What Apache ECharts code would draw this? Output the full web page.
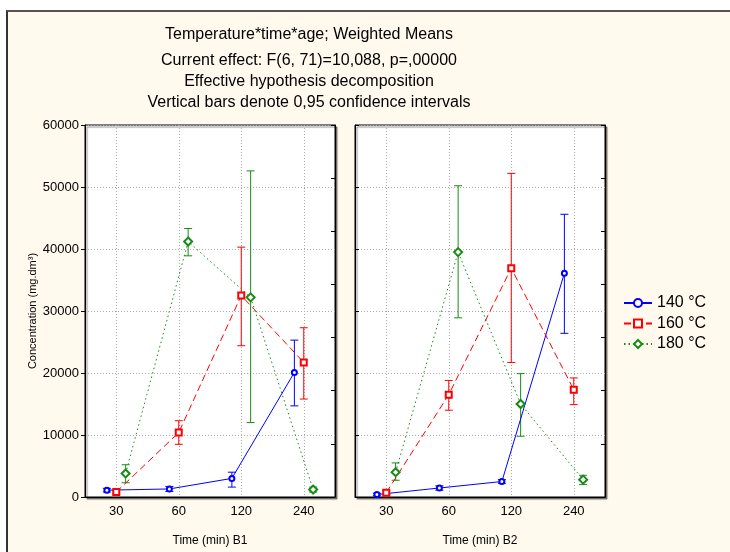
<!DOCTYPE html>
<html>
<head>
<meta charset="utf-8">
<script src="https://cdn.jsdelivr.net/npm/echarts@6/dist/echarts.min.js"></script>
<style>
  html, body { margin: 0; padding: 0; background: #fff; overflow: hidden; width: 730px; height: 552px; }
  #frame {
    position: absolute; left: 6px; top: 10px; width: 740px; height: 560px;
    background: #fff9ee; border-left: 2px solid #333; border-top: 2px solid #555;
  }
  #chart { position: absolute; left: 0; top: 0; width: 730px; height: 552px; }
</style>
</head>
<body>
<div id="frame"></div>
<div id="chart"></div>
<script>
// time categories (min)
const categories = ['30', '60', '120', '240'];
const temps = ['140 °C', '160 °C', '180 °C'];

// age B1: weighted means and 0,95 confidence limits
const b1Mean140 = [1100, 1300, 3000, 20100];
const b1Low140 = [800, 900, 1600, 14700];
const b1High140 = [1400, 1700, 4000, 25300];
const b1Mean160 = [800, 10400, 32500, 21700];
const b1Low160 = [500, 8500, 24400, 15800];
const b1High160 = [1100, 12300, 40300, 27300];
const b1Mean180 = [3800, 41200, 32200, 1200];
const b1Low180 = [2300, 38900, 12000, 800];
const b1High180 = [5200, 43300, 52600, 1600];

// age B2
const b2Mean140 = [400, 1450, 2500, 36100];
const b2Low140 = [200, 1100, 2200, 26400];
const b2High140 = [600, 1800, 2800, 45600];
const b2Mean160 = [700, 16500, 36900, 17300];
const b2Low160 = [400, 14000, 21700, 14900];
const b2High160 = [1000, 18800, 52200, 19200];
const b2Mean180 = [4000, 39500, 15000, 2800];
const b2Low180 = [2700, 28900, 9800, 2000];
const b2High180 = [5500, 50200, 19900, 3500];

const yTicks = [0, 10000, 20000, 30000, 40000, 50000, 60000];

// styling
const colors = ['#0000ff', '#ff0000', '#168c16'];
const symbols = ['emptyCircle', 'emptyRect', 'emptyDiamond'];
const symbolSizes = [5, 6, 8];
const lineTypes = ['solid', [7, 4], [1.5, 3]];
const jitter = [-0.15, 0, 0.15];
const font = 'Liberation Sans, Arial, sans-serif';

const panels = [
  { means: [b1Mean140, b1Mean160, b1Mean180], lows: [b1Low140, b1Low160, b1Low180], highs: [b1High140, b1High160, b1High180], title: 'Time (min) B1' },
  { means: [b2Mean140, b2Mean160, b2Mean180], lows: [b2Low140, b2Low160, b2Low180], highs: [b2High140, b2High160, b2High180], title: 'Time (min) B2' },
];

function renderErrorBar(params, api) {
  const x = api.value(0);
  const lo = api.coord([x, api.value(1)]);
  const hi = api.coord([x, api.value(2)]);
  const half = 4;
  const style = { stroke: api.visual('color'), lineWidth: 1, fill: null };
  return {
    type: 'group',
    children: [
      { type: 'line', shape: { x1: lo[0], y1: lo[1], x2: hi[0], y2: hi[1] }, style },
      { type: 'line', shape: { x1: lo[0] - half, y1: lo[1], x2: lo[0] + half, y2: lo[1] }, style },
      { type: 'line', shape: { x1: hi[0] - half, y1: hi[1], x2: hi[0] + half, y2: hi[1] }, style },
    ],
  };
}

function createChart(chartDom) {
  const grid = [];
  const xAxis = [];
  const yAxis = [];
  const series = [];
  const lefts = [85, 355];

  panels.forEach((p, g) => {
    grid.push({
      left: lefts[g], top: 125, width: 250, height: 372,
      show: true, backgroundColor: '#fff', borderColor: '#000', borderWidth: 1,
      shadowColor: 'rgba(0,0,0,0.45)', shadowOffsetX: 2, shadowOffsetY: 2, shadowBlur: 1,
    });
    xAxis.push({
      type: 'value', gridIndex: g, min: -0.5, max: 3.5, splitNumber: 4,
      name: p.title, nameLocation: 'middle', nameGap: 38,
      nameTextStyle: { fontSize: 12, color: '#000', fontFamily: font },
      axisLine: { show: true, onZero: false, lineStyle: { color: '#000' } },
      axisTick: { show: false },
      axisLabel: {
        margin: 8, fontSize: 13, color: '#000', fontFamily: font,
        formatter: (v) => (Number.isInteger(v) ? categories[v] : ''),
      },
      splitLine: { show: true, lineStyle: { color: '#aaa', type: [1, 2] } },
    });
    yAxis.push({
      type: 'value', gridIndex: g, position: 'left', min: 0, max: 60000, interval: 10000,
      name: g === 0 ? 'Concentration (mg.dm³)' : '', nameLocation: 'middle', nameGap: 41,
      nameTextStyle: { fontSize: 11, color: '#000', fontFamily: font },
      axisLine: { show: true, onZero: false, lineStyle: { color: '#000' } },
      axisTick: { show: true, inside: g !== 0, length: 4, lineStyle: { color: '#000' } },
      axisLabel: {
        show: g === 0, margin: 6, fontSize: 13, color: '#000', fontFamily: font,
        formatter: (v) => (yTicks.includes(v) ? String(v) : ''),
      },
      splitLine: { show: true, lineStyle: { color: '#aaa', type: [1, 2] } },
    });
    yAxis.push({
      type: 'value', gridIndex: g, position: 'right', min: 0, max: 7, interval: 1,
      axisLine: { show: true, onZero: false, lineStyle: { color: '#000' } },
      axisTick: { show: true, inside: true, length: 4, lineStyle: { color: '#000' } },
      axisLabel: { show: false },
      splitLine: { show: false },
    });

    const yIdx = g * 2;
    temps.forEach((t, s) => {
      series.push({
        name: t, type: 'line', xAxisIndex: g, yAxisIndex: yIdx,
        data: p.means[s].map((v, i) => [i + jitter[s], v]),
        symbol: symbols[s], symbolSize: symbolSizes[s], showAllSymbol: true,
        itemStyle: { color: colors[s], borderWidth: 1 },
        lineStyle: { color: colors[s], width: 1, type: lineTypes[s] },
        z: 3, animation: false,
      });
      series.push({
        name: t + ' CI', type: 'custom', xAxisIndex: g, yAxisIndex: yIdx,
        renderItem: renderErrorBar,
        itemStyle: { color: colors[s] },
        encode: { x: 0, y: [1, 2] },
        data: p.lows[s].map((lo, i) => [i + jitter[s], lo, p.highs[s][i]]),
        z: 2, animation: false,
      });
    });
  });

  const option = {
    animation: false,
    title: {
      text: 'Temperature*time*age; Weighted Means',
      subtext: 'Current effect: F(6, 71)=10,088, p=,00000\nEffective hypothesis decomposition\nVertical bars denote 0,95 confidence intervals',
      left: 304, top: 21, textAlign: 'center', itemGap: 6,
      textStyle: { fontSize: 16, fontWeight: 'normal', color: '#000', fontFamily: font, lineHeight: 18 },
      subtextStyle: { fontSize: 16, color: '#000', fontFamily: font, lineHeight: 21 },
    },
    legend: {
      data: temps, orient: 'vertical', left: 618, top: 290, itemGap: 4.5,
      itemWidth: 28, itemHeight: 10,
      textStyle: { fontSize: 16, color: '#000', fontFamily: font },
    },
    grid, xAxis, yAxis, series,
  };
  const myChart = echarts.init(chartDom);
  myChart.setOption(option);
  return myChart;
}

const chart = createChart(document.getElementById('chart'));
window.addEventListener('resize', () => {
  chart?.resize();
});
</script>
</body>
</html>
